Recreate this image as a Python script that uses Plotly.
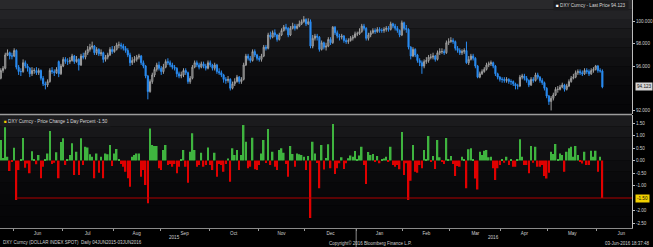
import plotly.graph_objects as go
import pandas as pd

# ---------------- data ----------------
dates = pd.bdate_range("2015-05-22", "2016-06-03")

close = [
95.6,95.8,97.0,97.2,96.9,96.9,97.4,95.9,95.5,95.5,
96.3,96.0,95.8,95.3,95.6,95.6,95.4,95.6,94.9,94.4,
94.3,94.6,95.6,95.5,95.4,95.7,95.3,96.0,96.6,96.4,
96.4,96.5,96.9,96.4,96.6,96.1,96.9,96.8,97.2,97.5,
97.7,97.8,97.2,97.5,97.1,97.2,96.6,96.8,97.0,97.5,
97.3,97.5,97.9,97.9,97.8,97.6,97.4,97.0,96.3,96.5,
96.6,96.8,96.9,96.3,96.0,95.1,93.7,94.6,95.2,95.7,
96.1,95.8,95.5,95.9,96.4,96.3,96.1,95.9,95.8,95.3,
95.1,95.2,95.6,95.4,94.6,94.9,95.9,96.3,96.1,95.9,
96.2,96.0,95.8,96.3,96.1,95.8,96.1,95.5,95.4,95.2,
94.8,94.7,94.8,94.0,94.4,94.6,95.0,94.6,94.8,96.1,
96.9,96.7,96.5,97.3,97.0,96.7,96.6,96.9,97.7,97.6,
98.8,98.6,99.0,98.8,98.4,98.8,99.2,99.5,99.4,98.8,
99.4,99.6,99.4,99.6,99.8,100.0,100.2,99.8,100.0,97.8,
98.5,98.7,98.6,97.5,98.1,97.7,97.8,98.4,98.1,99.5,
99.0,98.7,98.6,98.7,98.3,98.2,98.3,98.5,98.6,98.9,
98.9,99.1,99.6,99.4,98.5,98.8,99.0,99.2,99.1,99.3,
99.2,99.2,99.3,99.4,99.3,99.8,99.6,99.4,99.2,98.8,
99.9,99.4,99.3,97.7,96.9,97.5,97.0,96.5,96.3,96.0,
96.4,96.5,96.8,96.8,96.9,96.6,97.2,97.3,97.3,97.2,
98.1,98.2,98.3,98.2,97.6,97.4,97.2,97.3,97.4,96.3,
96.6,96.9,96.7,96.0,95.0,95.3,95.5,95.7,96.1,96.2,
96.3,96.0,95.3,95.0,94.8,94.8,94.7,94.8,94.6,94.6,
94.4,94.2,94.2,95.0,95.1,94.9,94.7,94.3,94.8,94.7,
95.2,95.0,94.7,94.5,94.0,93.3,92.8,93.1,93.4,93.9,
93.9,94.1,94.3,93.9,94.2,94.6,94.9,95.0,95.4,95.5,
95.4,95.3,95.6,95.5,95.3,95.6,95.7,96.0,95.6,95.55,
94.123]

high = [
95.8,96.0,97.2,97.5,97.3,97.2,97.6,97.5,96.1,95.8,
96.6,96.5,96.2,95.9,95.9,95.8,95.9,95.8,95.7,95.1,
94.6,94.8,95.8,95.9,95.7,95.9,96.5,96.2,96.8,96.8,
96.7,96.8,97.1,97.0,96.9,96.7,97.1,97.2,97.4,97.8,
98.0,98.2,97.9,97.7,97.6,97.5,97.3,97.0,97.2,97.7,
97.8,97.8,98.1,98.2,98.1,98.0,97.8,97.6,97.2,96.8,
96.9,97.0,97.1,97.0,96.5,96.1,95.2,94.8,95.4,95.9,
96.3,96.4,96.0,96.2,96.6,96.7,96.5,96.3,96.1,95.9,
95.5,95.5,95.8,95.8,95.5,95.1,96.1,96.5,96.5,96.3,
96.4,96.4,96.2,96.5,96.5,96.2,96.3,96.2,95.8,95.6,
95.3,95.0,95.1,94.9,94.6,94.9,95.2,95.1,95.0,96.3,
97.1,97.1,96.9,97.5,97.5,97.1,96.9,97.1,97.9,97.9,
99.0,99.1,99.2,99.3,98.9,99.0,99.4,99.7,99.8,99.5,
99.6,99.9,99.8,99.8,100.1,100.2,100.5,100.3,100.3,100.2,
98.8,98.9,98.9,98.7,98.3,98.2,98.1,98.6,98.6,99.6,
99.6,99.2,98.9,98.9,98.8,98.5,98.5,98.7,98.8,99.1,
99.1,99.4,99.8,99.8,99.5,99.0,99.2,99.4,99.4,99.5,
99.5,99.4,99.5,99.6,99.6,100.0,99.9,99.8,99.6,99.3,
100.1,100.0,99.7,99.4,97.8,97.7,97.6,97.1,96.7,96.5,
96.6,96.8,97.0,97.1,97.2,97.0,97.4,97.6,97.6,97.5,
98.3,98.5,98.6,98.5,98.3,97.8,97.6,97.5,97.6,98.2,
96.9,97.1,97.1,96.8,96.1,95.5,95.7,95.9,96.3,96.4,
96.5,96.4,96.1,95.4,95.1,95.0,95.0,95.0,94.9,94.8,
94.7,94.5,94.4,95.2,95.3,95.3,95.1,94.8,95.0,95.0,
95.4,95.4,95.1,94.9,94.6,94.1,93.4,93.3,93.6,94.1,
94.2,94.3,94.5,94.4,94.4,94.8,95.1,95.3,95.6,95.7,
95.7,95.6,95.8,95.8,95.7,95.8,95.9,96.1,96.1,95.8,
95.7]

low = [
94.8,95.4,95.7,96.9,96.6,96.6,96.8,95.7,95.2,95.1,
95.4,95.8,95.5,95.0,95.1,95.3,95.2,95.2,94.7,94.2,
93.9,94.1,94.5,95.3,95.1,95.3,95.0,95.2,95.9,96.2,
96.1,96.2,96.4,96.2,96.3,95.6,96.0,96.6,96.6,97.0,
97.3,97.5,97.0,97.0,96.9,96.9,96.3,96.4,96.6,96.9,
97.1,97.2,97.4,97.6,97.5,97.4,97.2,96.8,96.0,96.1,
96.3,96.4,96.6,96.1,95.8,94.9,93.0,93.6,94.4,95.0,
95.5,95.6,95.2,95.3,95.8,96.1,95.9,95.7,95.6,95.0,
94.9,94.9,95.0,95.2,94.4,94.4,94.8,95.8,95.9,95.7,
95.8,95.8,95.6,95.7,95.9,95.6,95.6,95.3,95.2,95.0,
94.5,94.4,94.5,93.8,93.9,94.2,94.5,94.4,94.4,94.7,
96.0,96.5,96.3,96.4,96.8,96.5,96.4,96.4,96.8,97.4,
97.5,98.4,98.5,98.6,98.2,98.3,98.7,99.1,99.2,98.6,
98.7,99.3,99.2,99.3,99.5,99.7,99.9,99.6,99.7,97.6,
97.6,98.3,98.3,97.3,97.4,97.5,97.4,97.7,97.9,98.0,
98.8,98.5,98.3,98.4,98.1,98.0,98.0,98.2,98.3,98.5,
98.7,98.8,99.0,99.2,98.3,98.3,98.6,98.9,98.9,99.0,
99.0,99.0,99.0,99.1,99.1,99.2,99.4,99.2,99.0,98.6,
98.7,99.2,99.0,97.5,96.6,96.8,96.8,96.3,96.0,95.3,
95.8,96.2,96.3,96.6,96.6,96.4,96.5,97.0,97.1,97.0,
97.1,97.9,98.1,98.0,97.4,97.2,97.0,97.0,97.1,96.2,
96.1,96.5,96.5,95.8,94.9,94.9,95.2,95.4,95.6,95.9,
96.0,95.8,95.1,94.8,94.6,94.5,94.5,94.5,94.4,94.3,
94.2,93.9,93.9,94.1,94.8,94.7,94.5,94.1,94.2,94.5,
94.6,94.8,94.5,94.3,93.8,93.1,92.5,92.0,92.9,93.3,
93.6,93.8,94.0,93.7,93.8,94.1,94.5,94.8,94.9,95.2,
95.2,95.1,95.2,95.3,95.1,95.2,95.4,95.6,95.4,95.4,
94.0]

first_open = 94.9
open_gaps = {26: 96.4}

pct = [
0.82,0.10,1.33,0.15,-0.42,-0.05,0.51,-1.58,-0.38,0.05,
0.90,-0.29,-0.12,-0.51,0.37,0.05,-0.15,0.22,-0.71,-0.25,
0.05,0.28,1.18,-0.14,-0.09,0.33,-0.71,0.74,0.89,-0.18,
0.05,0.22,0.69,-0.58,0.35,-0.58,0.89,-0.18,0.55,0.52,
0.25,0.15,-0.71,0.28,-0.49,0.15,-0.71,0.28,0.25,0.62,
-0.22,0.28,0.46,0.05,-0.14,-0.25,-0.45,-0.71,-1.05,0.15,
0.22,0.28,0.28,-0.65,-0.38,-0.98,-1.71,1.28,0.62,0.58,
0.58,-0.31,-0.38,0.42,0.62,-0.18,-0.14,-0.25,-0.14,-0.51,
-0.25,0.05,0.42,-0.25,-0.89,0.35,1.09,0.42,-0.25,-0.18,
0.31,-0.25,-0.18,0.52,-0.18,-0.38,0.31,-0.65,-0.14,-0.18,
-0.45,-0.14,0.08,-0.85,0.49,0.22,0.42,-0.38,0.22,1.42,
0.75,-0.31,-0.25,0.91,-0.35,-0.38,-0.18,0.28,0.82,-0.10,
1.26,-0.18,0.35,-0.25,-0.38,0.42,0.49,0.31,-0.14,-0.65,
0.58,0.26,-0.25,0.28,0.25,0.22,0.15,-0.38,0.18,-2.30,
0.75,0.28,-0.10,-1.11,0.62,-0.36,0.10,0.65,-0.31,1.46,
-0.54,-0.31,-0.11,0.13,-0.34,-0.11,0.09,0.20,0.15,0.38,
0.05,0.20,0.55,-0.18,-0.94,0.34,0.22,0.26,-0.04,0.18,
-0.11,0.04,0.08,0.15,-0.05,0.55,-0.18,-0.25,-0.18,-0.35,
1.14,-0.58,-0.11,-1.58,-0.81,0.62,-0.45,-0.49,-0.18,-0.31,
0.42,0.05,0.98,-0.05,0.18,-0.34,0.82,0.13,-0.05,-0.14,
0.90,0.04,0.18,-0.14,-0.62,-0.22,-0.25,0.15,0.05,-1.11,
0.45,0.49,0.05,-0.72,-1.16,0.35,0.22,0.39,0.42,0.13,
0.15,-0.31,-0.78,-0.31,-0.18,0.04,-0.09,0.15,-0.18,0.04,
-0.25,-0.25,0.05,0.85,0.15,-0.18,-0.18,-0.51,0.58,-0.09,
0.55,-0.25,-0.25,-0.18,-0.62,-0.72,-0.49,0.35,0.26,0.66,
0.04,0.28,0.22,-0.45,0.35,0.49,0.55,0.15,0.58,0.22,
-0.03,-0.12,0.35,-0.18,-0.18,0.39,0.15,0.39,-0.45,0.15,
-1.50]

last_price = 94.123
last_pct = -1.50
top_ticks = [92, 96, 98, 100]
bot_ticks = [1.5, 1.0, 0.5, 0.0, -0.5, -1.0, -2.0, -2.5]
month_names = ["Jun", "Jul", "Aug", "Sep", "Oct", "Nov", "Dec",
               "Jan", "Feb", "Mar", "Apr", "May", "Jun"]
year_labels = ["2015", "2016"]

# ---------------- derived ----------------
n = len(close)
xs = list(range(n))
opens = [first_open] + close[:-1]
for k, v in open_gaps.items():
    opens[k] = v

XMIN, XMAX = -0.36, 283.3
PW, PH = 632.0, 228.0


def px(xp):
    return xp / PW


def py(yp):
    return 1 - yp / PH


ext = pd.bdate_range("2015-05-22", "2016-07-29")
bounds = []
for k in range(1, len(ext)):
    if ext[k].month != ext[k - 1].month:
        bounds.append(k - 0.5)
centres = [(bounds[k] + bounds[k + 1]) / 2 for k in range(len(bounds) - 1)]
centres = centres[:len(month_names)]
year_bound = [b for b in bounds if ext[int(b + 0.5)].month == 1][0]

fig = go.Figure()

fig.add_trace(go.Candlestick(
    x=xs, open=opens, high=high, low=low, close=close,
    xaxis="x", yaxis="y",
    increasing=dict(line=dict(color="#a0a0a0", width=1), fillcolor="#3a3a3a"),
    decreasing=dict(line=dict(color="#2a8cf2", width=1), fillcolor="#2a8cf2"),
    whiskerwidth=0, showlegend=False, name="DXY Curncy",
))

bar_colors = ["#3fb43f" if v >= 0 else "#e00000" for v in pct]
fig.add_trace(go.Bar(
    x=xs, y=pct, xaxis="x", yaxis="y2",
    marker=dict(color=bar_colors, line=dict(width=0)),
    showlegend=False, name="Price Change 1 Day Percent",
))

shapes = []
top_cols = ["#29292b", "#232326", "#1d1d20", "#19191b", "#151517", "#121214",
            "#0f0f11", "#0c0c0e", "#0a0a0c", "#08080a", "#070709", "#060608"]
for k, col in enumerate(top_cols):
    y0 = k * 114 / len(top_cols)
    y1 = (k + 1) * 114 / len(top_cols)
    shapes.append(dict(type="rect", xref="paper", yref="paper", x0=0, x1=1,
                       y0=py(y1), y1=py(y0), fillcolor=col, line=dict(width=0), layer="below"))
bot_cols = ["#1b1b1d", "#171719", "#131315", "#101012", "#0d0d0f", "#0a0a0c",
            "#08080a", "#070709", "#060608", "#050507"]
for k, col in enumerate(bot_cols):
    y0 = 115 + k * 113 / len(bot_cols)
    y1 = 115 + (k + 1) * 113 / len(bot_cols)
    shapes.append(dict(type="rect", xref="paper", yref="paper", x0=0, x1=1,
                       y0=py(y1), y1=py(y0), fillcolor=col, line=dict(width=0), layer="below"))
shapes.append(dict(type="line", xref="paper", yref="paper", x0=0, x1=1,
                   y0=py(114.5), y1=py(114.5), line=dict(color="#9c9c9c", width=1.5)))
shapes.append(dict(type="line", xref="x", yref="y2", x0=7, x1=XMAX,
                   y0=last_pct, y1=last_pct, line=dict(color="#b00000", width=1)))
shapes.append(dict(type="line", xref="x", yref="paper", x0=year_bound, x1=year_bound,
                   y0=py(228), y1=py(247), line=dict(color="#8a8a8a", width=1)))

FONT = "Liberation Sans, Arial, sans-serif"
FS = 4.6
FF = 4.5
ann = []
ann.append(dict(xref="paper", yref="paper", x=px(553), y=py(6), xanchor="left", yanchor="middle",
                text='<span style="color:#ffffff">■</span> DXY Curncy - Last Price 94.123',
                showarrow=False, bgcolor="#1d1d1f", borderpad=2,
                font=dict(family=FONT, size=FS, color="#d8d8d8")))
ann.append(dict(xref="paper", yref="paper", x=px(1), y=py(121), xanchor="left", yanchor="middle",
                text='<span style="color:#f0c800">■</span> DXY Curncy - Price Change 1 Day Percent -1.50',
                showarrow=False, bgcolor="#1d1d1f", borderpad=2,
                font=dict(family=FONT, size=FS, color="#d8d8d8")))
ann.append(dict(xref="paper", yref="y", x=px(635), y=last_price, xanchor="left", yanchor="middle",
                text=f"{last_price:.3f}", showarrow=False, bgcolor="#d6d6d6", borderpad=1,
                font=dict(family=FONT, size=FS, color="#111111")))
ann.append(dict(xref="paper", yref="y2", x=px(635), y=last_pct, xanchor="left", yanchor="middle",
                text=f"{last_pct:.2f}", showarrow=False, bgcolor="#f2d000", borderpad=1,
                font=dict(family=FONT, size=FS, color="#111111")))
ann.append(dict(xref="paper", yref="paper", x=px(175), y=py(237.5), xanchor="center", yanchor="middle",
                text=year_labels[0], showarrow=False, font=dict(family=FONT, size=FS, color="#cfcfcf")))
ann.append(dict(xref="paper", yref="paper", x=px(493), y=py(237.5), xanchor="center", yanchor="middle",
                text=year_labels[1], showarrow=False, font=dict(family=FONT, size=FS, color="#cfcfcf")))
ann.append(dict(xref="paper", yref="paper", x=px(1), y=py(242.5), xanchor="left", yanchor="middle",
                text="DXY Curncy (DOLLAR INDEX SPOT)  Daily 04JUN2015-03JUN2016", showarrow=False,
                font=dict(family=FONT, size=FF, color="#d0d0d0")))
ann.append(dict(xref="paper", yref="paper", x=px(327), y=py(243), xanchor="left", yanchor="middle",
                text="Copyright© 2016 Bloomberg Finance L.P.", showarrow=False,
                font=dict(family=FONT, size=FF, color="#d0d0d0")))
ann.append(dict(xref="paper", yref="paper", x=px(652), y=py(243), xanchor="right", yanchor="middle",
                text="03-Jun-2016 18:37:48", showarrow=False,
                font=dict(family=FONT, size=FF, color="#d0d0d0")))

fig.update_layout(
    width=653, height=247,
    margin=dict(l=0, r=21, t=0, b=19),
    paper_bgcolor="#000000", plot_bgcolor="#000000",
    bargap=0.3,
    shapes=shapes, annotations=ann,
    font=dict(family=FONT, size=FS, color="#cfcfcf"),
    xaxis=dict(
        anchor="y2", range=[XMIN, XMAX], rangeslider=dict(visible=False),
        tickmode="array", tickvals=centres, ticktext=month_names, ticks="",
        showgrid=False, zeroline=False, showline=True, linecolor="#8a8a8a", linewidth=1,
        tickfont=dict(family=FONT, size=FS, color="#cfcfcf"),
        minor=dict(tickmode="array", tickvals=bounds, ticks="outside", ticklen=2,
                   tickcolor="#9a9a9a", showgrid=False),
    ),
    yaxis=dict(
        domain=[py(114), 1], range=[91.68, 101.95], side="right", anchor="x",
        tickmode="array", tickvals=top_ticks, ticktext=[f"{v:.3f}" for v in top_ticks],
        ticks="outside", ticklen=2, tickcolor="#bbbbbb",
        showgrid=False, zeroline=False, showline=True, linecolor="#bdbdbd", linewidth=1,
        tickfont=dict(family=FONT, size=FS, color="#d0d0d0"),
    ),
    yaxis2=dict(
        domain=[0, py(115)], range=[-2.70, 1.82], side="right", anchor="x",
        tickmode="array", tickvals=bot_ticks, ticktext=[f"{v:.2f}" for v in bot_ticks],
        ticks="outside", ticklen=2, tickcolor="#bbbbbb",
        showgrid=False, zeroline=False, showline=True, linecolor="#bdbdbd", linewidth=1,
        tickfont=dict(family=FONT, size=FS, color="#d0d0d0"),
    ),
)

fig.write_html("out.html")
